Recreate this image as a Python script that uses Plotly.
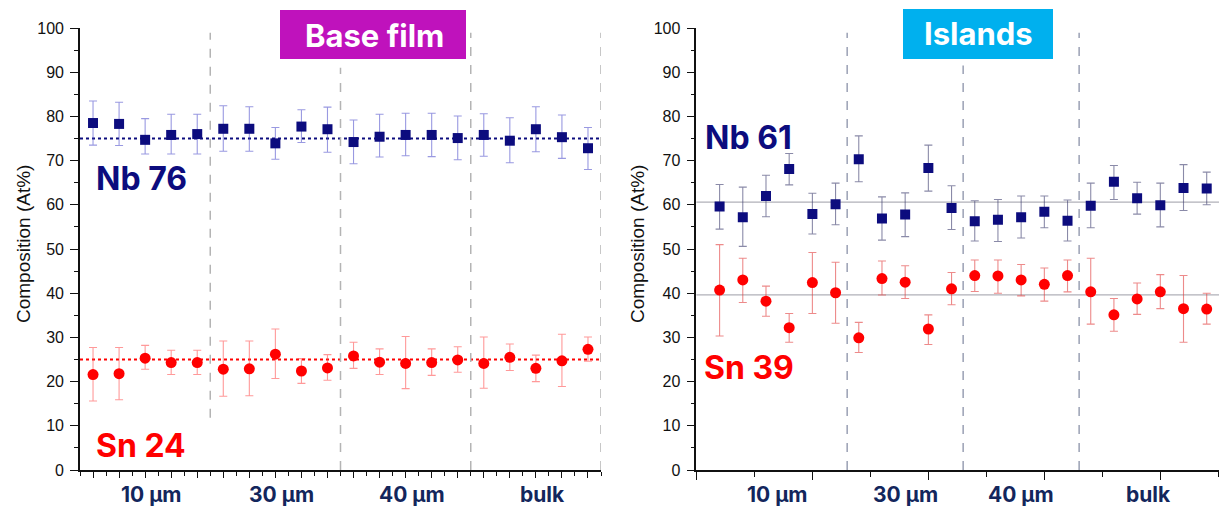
import plotly.graph_objects as go

# ---------------- data ----------------
group_labels = ["10 µm", "30 µm", "40 µm", "bulk"]
left_group_sizes = [5, 5, 5, 5]
right_group_sizes = [6, 5, 5, 6]

nb_left = [78.5, 78.3, 74.7, 75.8, 76.0, 77.2, 77.2, 73.9, 77.7, 77.1,
           74.2, 75.4, 75.8, 75.8, 75.1, 75.8, 74.5, 77.1, 75.3, 72.8]
nb_left_hi = [83.5, 83.2, 79.5, 80.5, 80.5, 82.4, 82.2, 77.5, 81.5, 82.1,
              79.2, 80.5, 80.7, 80.7, 80.1, 80.6, 79.7, 82.2, 80.3, 77.5]
nb_left_lo = [73.5, 73.4, 71.5, 71.5, 71.5, 72.1, 72.1, 70.3, 74.1, 71.9,
              69.3, 70.8, 71.1, 70.9, 70.2, 71.0, 69.5, 72.0, 70.5, 68.0]

sn_left = [21.6, 21.8, 25.3, 24.3, 24.3, 22.8, 22.9, 26.2, 22.4, 23.1,
           25.8, 24.4, 24.1, 24.3, 24.9, 24.1, 25.5, 23.0, 24.7, 27.3]
sn_left_hi = [27.7, 27.7, 28.2, 27.1, 27.1, 29.2, 29.2, 31.9, 25.2, 26.1,
              28.9, 27.4, 30.2, 27.4, 27.9, 30.1, 28.5, 26.0, 30.7, 30.1]
sn_left_lo = [15.6, 15.9, 22.8, 21.6, 21.6, 16.7, 16.8, 20.7, 19.6, 20.3,
              23.0, 21.6, 18.4, 21.4, 22.1, 18.5, 22.5, 20.0, 18.9, 24.6]

nb_right = [59.6, 57.2, 62.0, 68.1, 57.9, 60.1, 70.3, 56.9, 57.8, 68.3, 59.3,
            56.3, 56.6, 57.2, 58.4, 56.4, 59.8, 65.2, 61.5, 59.9, 63.8, 63.7]
nb_right_hi = [64.6, 64.0, 66.7, 71.6, 62.6, 64.9, 75.6, 61.8, 62.7, 73.5, 64.3,
               60.9, 61.2, 62.0, 62.0, 61.1, 64.9, 68.9, 65.1, 64.9, 69.1, 67.4]
nb_right_lo = [54.5, 50.6, 57.3, 64.5, 53.4, 55.5, 65.2, 52.0, 52.8, 63.1, 54.4,
               51.8, 51.7, 52.5, 54.8, 51.8, 54.8, 61.2, 57.9, 55.0, 58.7, 60.0]

sn_right = [40.7, 43.0, 38.2, 32.2, 42.4, 40.1, 29.9, 43.3, 42.5, 31.9, 41.0,
            44.0, 43.9, 43.0, 42.0, 44.0, 40.3, 35.1, 38.7, 40.3, 36.5, 36.4]
sn_right_hi = [51.0, 47.9, 41.6, 35.4, 49.2, 47.0, 33.4, 47.3, 46.2, 35.1, 44.7,
               47.5, 47.5, 46.5, 45.7, 47.5, 47.9, 38.8, 42.3, 44.2, 44.0, 40.0]
sn_right_lo = [30.3, 37.9, 34.8, 28.9, 35.4, 33.2, 26.6, 39.6, 38.8, 28.4, 37.4,
               40.4, 40.0, 39.4, 38.2, 40.3, 33.0, 31.4, 35.2, 36.5, 28.9, 33.0]

ref_left = {"Nb": 75.0, "Sn": 25.0}
ref_right = {"Nb": 60.6, "Sn": 39.6}
label_left = {"Nb": "Nb 76", "Sn": "Sn 24"}
label_right = {"Nb": "Nb 61", "Sn": "Sn 39"}
panel_titles = ["Base film", "Islands"]

# ---------------- helpers ----------------
NB_COLOR = "#0c0c7e"
SN_COLOR = "#ff0000"
CAT_COLOR = "#13265c"
W, H = 1220, 506
PLOT_TOP, PLOT_BOT = 28, 470


def py(p):  # pixel y -> paper y
    return (PLOT_BOT - p) / (PLOT_BOT - PLOT_TOP)


def px(p):
    return p / W


def err(vals, hi, lo):
    return ([h - v for v, h in zip(vals, hi)], [v - l for v, l in zip(vals, lo)])


def positions(sizes):
    n = sum(sizes)
    xs = list(range(1, n + 1))
    bounds, centers, c = [], [], 0
    for s in sizes:
        centers.append(c + (s + 1) / 2)
        c += s
        bounds.append(c + 0.5)
    return xs, bounds, centers


fig = go.Figure()

xl, bl, cl = positions(left_group_sizes)
xr, br, cr = positions(right_group_sizes)


def add_series(x, vals, hi, lo, xa, ya, symbol, color, ecolor, size):
    p, m = err(vals, hi, lo)
    fig.add_trace(go.Scatter(
        x=x, y=vals, mode="markers", xaxis=xa, yaxis=ya, showlegend=False,
        marker=dict(symbol=symbol, color=color, size=size, line=dict(width=0)),
        error_y=dict(type="data", symmetric=False, array=p, arrayminus=m,
                     color=ecolor, thickness=1.1, width=4),
    ))


add_series(xl, nb_left, nb_left_hi, nb_left_lo, "x", "y", "square", NB_COLOR,
           "rgba(70,70,200,0.55)", 10)
add_series(xl, sn_left, sn_left_hi, sn_left_lo, "x", "y", "circle", SN_COLOR,
           "rgba(255,70,70,0.55)", 11)
add_series(xr, nb_right, nb_right_hi, nb_right_lo, "x2", "y2", "square", NB_COLOR,
           "rgba(60,60,110,0.6)", 10)
add_series(xr, sn_right, sn_right_hi, sn_right_lo, "x2", "y2", "circle", SN_COLOR,
           "rgba(225,60,60,0.6)", 11)

shapes = []
# left dashed separators
left_tops = [98.9, 91.0, 98.9, 98.9]
left_bots = [11.8, 0, 0, 0]
for b, t0, b0 in zip(bl, left_tops, left_bots):
    shapes.append(dict(type="line", xref="x", yref="y", x0=b, x1=b, y0=b0, y1=t0,
                       line=dict(color="#b4b4b4", width=1.5, dash="dash"), layer="below"))
right_tops = [98.9, 91.5, 98.9]
for b, t0 in zip(br[:-1], right_tops):
    shapes.append(dict(type="line", xref="x2", yref="y2", x0=b, x1=b, y0=0, y1=t0,
                       line=dict(color="#9aa0b4", width=1.5, dash="dash"), layer="below"))

# reference lines
shapes.append(dict(type="line", xref="x domain", yref="y", x0=0, x1=1,
                   y0=ref_left["Nb"], y1=ref_left["Nb"],
                   line=dict(color=NB_COLOR, width=2, dash="dot"), layer="below"))
shapes.append(dict(type="line", xref="x domain", yref="y", x0=0, x1=1,
                   y0=ref_left["Sn"], y1=ref_left["Sn"],
                   line=dict(color=SN_COLOR, width=2, dash="dot"), layer="below"))
for k in ("Nb", "Sn"):
    shapes.append(dict(type="line", xref="x2 domain", yref="y2", x0=0, x1=1,
                       y0=ref_right[k], y1=ref_right[k],
                       line=dict(color="#b0b0b8", width=1.3), layer="below"))

# title boxes
shapes.append(dict(type="rect", xref="paper", yref="paper",
                   x0=px(280), x1=px(466), y0=py(59), y1=py(10),
                   fillcolor="#bf12bc", line=dict(width=0), layer="above"))
shapes.append(dict(type="rect", xref="paper", yref="paper",
                   x0=px(903), x1=px(1053), y0=py(59), y1=py(9),
                   fillcolor="#00b0ee", line=dict(width=0), layer="above"))

big = dict(family="Inter, Open Sans, sans-serif", size=32, weight=700)
C = dict(xanchor="center", yanchor="middle", showarrow=False)
L = dict(xanchor="left", yanchor="middle", showarrow=False)
ann = []
ann.append(dict(C, text=panel_titles[0], xref="paper", yref="paper", x=px(374), y=py(35),
                font=dict(big, color="white", size=31)))
ann.append(dict(C, text=panel_titles[1], xref="paper", yref="paper", x=px(978), y=py(34),
                font=dict(big, color="white", size=31)))

ann.append(dict(L, text=label_left["Nb"], xref="paper", yref="paper", x=px(94), y=py(178),
                font=dict(big, color=NB_COLOR)))
ann.append(dict(L, text=label_left["Sn"], xref="paper", yref="paper", x=px(94), y=py(445),
                font=dict(big, color=SN_COLOR)))
ann.append(dict(L, text=label_right["Nb"], xref="paper", yref="paper", x=px(703), y=py(137),
                font=dict(big, color=NB_COLOR)))
ann.append(dict(L, text=label_right["Sn"], xref="paper", yref="paper", x=px(702), y=py(367),
                font=dict(big, color=SN_COLOR)))

cat_font = dict(family="Inter, Open Sans, sans-serif", size=21, weight=700, color=CAT_COLOR)
for lab, c in zip(group_labels, cl):
    ann.append(dict(C, text=lab, xref="x", yref="paper", x=c + 0.25, y=py(494),
                    font=cat_font))
for lab, c in zip(group_labels, cr):
    ann.append(dict(C, text=lab, xref="x2", yref="paper", x=c, y=py(494),
                    font=cat_font))

ytitle_font = dict(family="Liberation Sans, Arial, sans-serif", size=19, color="#111111")
for xx in (px(23), px(637)):
    ann.append(dict(C, text="Composition (At%)", xref="paper", yref="paper", x=xx,
                    y=py(244), textangle=-90, font=ytitle_font))

yaxis_common = dict(range=[0, 100], showgrid=False, zeroline=False, showline=True,
                    linecolor="#111111", linewidth=1.6, ticks="outside", ticklen=8,
                    tickwidth=1.3, tickcolor="#111111", dtick=10, tick0=0,
                    tickfont=dict(family="Liberation Sans, Arial, sans-serif", size=16,
                                  color="#111111"),
                    ticklabelstandoff=3,
                    minor=dict(ticks="outside", ticklen=4, dtick=5, tickcolor="#111111",
                               tickwidth=1.2))

fig.update_layout(
    width=W, height=H, margin=dict(l=0, r=0, t=PLOT_TOP, b=H - PLOT_BOT),
    paper_bgcolor="white", plot_bgcolor="white", showlegend=False,
    xaxis=dict(domain=[px(80), px(601)], range=[0.5, 20.5], showgrid=False,
               zeroline=False, showline=True, linecolor="#111111", linewidth=1.6,
               ticks="outside", ticklen=6, tickwidth=1.2, tickcolor="#111111",
               tick0=1, dtick=1, showticklabels=False, anchor="y",
               minor=dict(ticks="outside", ticklen=4, dtick=0.5, tick0=0.5,
                          tickcolor="#111111", tickwidth=1.2)),
    yaxis=dict(yaxis_common, anchor="x"),
    xaxis2=dict(domain=[px(696.4), px(1219)], range=[0, 22.53], showgrid=False,
                zeroline=False, showline=True, linecolor="#111111", linewidth=1.6,
                ticks="outside", ticklen=8, tickwidth=1.3, tickcolor="#111111",
                tick0=0, dtick=5, showticklabels=False, anchor="y2",
                minor=dict(ticks="outside", ticklen=5, dtick=2.5, tickcolor="#111111",
                           tickwidth=1.2)),
    yaxis2=dict(yaxis_common, anchor="x2"),
    shapes=shapes, annotations=ann,
)

fig.write_html("out.html")
